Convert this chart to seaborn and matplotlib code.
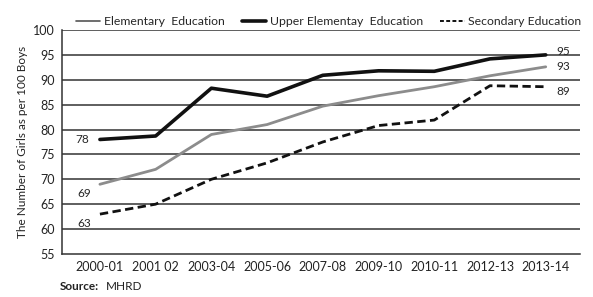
import pandas as pd
import numpy as np
import matplotlib.pyplot as plt
from matplotlib.lines import Line2D
import seaborn as sns

years = ['2000-01', '2001 02', '2003-04', '2005-06', '2007-08', '2009-10', '2010-11', '2012-13', '2013-14']
elementary = [69, 72, 79, 81, 84.7, 86.8, 88.6, 90.8, 92.6]
upper = [78, 78.7, 88.3, 86.7, 90.9, 91.8, 91.7, 94.2, 95]
secondary = [63, 65, 70, 73.3, 77.5, 80.8, 81.9, 88.8, 88.6]

sns.set_style('white')
plt.rcParams['font.family'] = ['Lato', 'DejaVu Sans']

df = pd.DataFrame({'pos': np.arange(len(years)), 'Elementary': elementary,
                   'Upper': upper, 'Secondary': secondary})

fig = plt.figure(figsize=(5.93, 2.97), dpi=100)
ax = fig.add_axes([0.1046, 0.145, 0.873, 0.754])

for y in range(60, 101, 5):
    ax.axhline(y, color='#333333', lw=1.1, zorder=0)

sns.lineplot(data=df, x='pos', y='Elementary', ax=ax, color='#8c8c8c', lw=2)
sns.lineplot(data=df, x='pos', y='Upper', ax=ax, color='#111111', lw=2.6)
sns.lineplot(data=df, x='pos', y='Secondary', ax=ax, color='#111111', lw=2,
             linestyle=(0, (3, 1.6)))

ax.set_xlim(-0.68, 8.61)
ax.set_ylim(55, 100)
ax.set_yticks(range(55, 101, 5))
ax.set_xticks(df['pos'])
ax.set_xticklabels(years)
ax.tick_params(axis='both', labelsize=9, colors='#222222', length=0, pad=5)
ax.set_xlabel('')
ax.set_ylabel('The Number of Girls as per 100 Boys', fontsize=8.5, color='#222222')

for s in ['top', 'right']:
    ax.spines[s].set_visible(False)
ax.spines['left'].set_color('#333333')
ax.spines['bottom'].set_color('#333333')
ax.spines['left'].set_linewidth(1.1)
ax.spines['bottom'].set_linewidth(1.1)

# end value labels
ax.text(-0.2, upper[0], str(upper[0]), ha='right', va='center', fontsize=8.5)
ax.text(-0.15, elementary[0] - 1.8, str(elementary[0]), ha='right', va='center', fontsize=8.5)
ax.text(-0.15, secondary[0] - 1.8, str(secondary[0]), ha='right', va='center', fontsize=8.5)
ax.text(8.2, upper[-1] + 0.6, '95', ha='left', va='center', fontsize=8.5)
ax.text(8.2, elementary[-1], '93', ha='left', va='center', fontsize=8.5)
ax.text(8.2, secondary[-1] - 1, '89', ha='left', va='center', fontsize=8.5)

handles = [Line2D([], [], color='#555555', lw=1.2),
           Line2D([], [], color='#111111', lw=2.6),
           Line2D([], [], color='#111111', lw=1.4, linestyle=(0, (2, 1.2)))]
labels = ['Elementary  Education', 'Upper Elementay  Education', 'Secondary Education']
ax.legend(handles, labels, loc='lower center', bbox_to_anchor=(0.515, 0.99), ncol=3,
          frameon=False, fontsize=8.8, handlelength=2.0, handletextpad=0.3,
          columnspacing=1.4, borderaxespad=0)

fig.text(0.1, 0.022, 'Source:', fontsize=8.5, fontweight='bold', color='#222222')
fig.text(0.178, 0.022, 'MHRD', fontsize=8.5, color='#222222')

fig.savefig('out.png', dpi=100)
